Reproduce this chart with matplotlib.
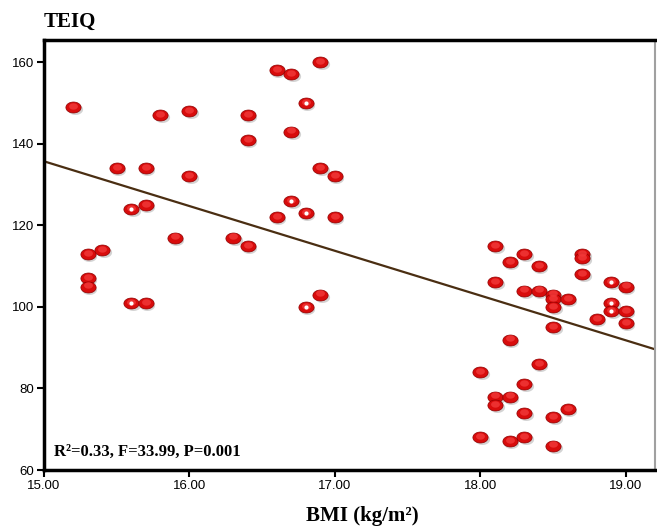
import matplotlib
matplotlib.use("Agg")
import matplotlib.pyplot as plt
import matplotlib.transforms as mtransforms
from matplotlib.path import Path
import numpy as np

# BMI (kg/m2) and TEIQ score per subject
bmi = [15.2, 15.5, 15.7, 16.0, 15.8, 16.0, 15.6, 15.7, 15.3, 15.4, 15.9, 15.3, 15.3,
       15.6, 15.7, 16.3, 16.4, 16.4, 16.4, 16.6, 16.7, 16.9, 16.8, 16.7, 16.9, 17.0,
       16.7, 16.8, 16.6, 17.0, 16.9, 16.8,
       18.1, 18.2, 18.3, 18.4, 18.7, 18.7, 18.7, 18.9, 19.0, 18.1, 18.3, 18.4, 18.5,
       18.5, 18.5, 18.6, 18.9, 18.9, 19.0, 18.8, 19.0, 18.5, 18.2, 18.4, 18.0, 18.3,
       18.1, 18.1, 18.2, 18.6, 18.3, 18.5, 18.0, 18.2, 18.3, 18.5]
teiq = [149, 134, 134, 148, 147, 132, 124, 125, 113, 114, 117, 107, 105,
        101, 101, 117, 115, 147, 141, 158, 157, 160, 150, 143, 134, 132,
        126, 123, 122, 122, 103, 100,
        115, 111, 113, 110, 113, 112, 108, 106, 105, 106, 104, 104, 103,
        102, 100, 102, 101, 99, 99, 97, 96, 95, 92, 86, 84, 81,
        78, 76, 78, 75, 74, 73, 68, 67, 68, 66]
# points drawn with a white centre (overlapping cases)
doubled = [(15.6, 124), (15.6, 101), (16.8, 150), (16.7, 126), (16.8, 123), (16.8, 100),
           (18.9, 106), (18.9, 101), (18.9, 99)]

fit_x = [15.0, 19.2]
fit_y = [135.7, 89.6]
stats_text = "R²=0.33, F=33.99, P=0.001"

fig = plt.figure(figsize=(6.57, 5.29), dpi=100)
ax = fig.add_axes([0.067, 0.1115, 0.93, 0.8125])

# flattened ellipse marker
t = np.linspace(0, 2 * np.pi, 60)
ell = Path(np.column_stack([np.cos(t), 0.72 * np.sin(t)]), closed=True)

ax.plot(fit_x, fit_y, color="#4a2e12", lw=1.6, zorder=2)

shadow = ax.transData + mtransforms.ScaledTranslation(1.5 / 100, -2 / 100, fig.dpi_scale_trans)
ax.scatter(bmi, teiq, s=120, marker=ell, color="#b0b0b0", alpha=0.55, lw=0,
           transform=shadow, zorder=3)
ax.scatter(bmi, teiq, s=120, marker=ell, color="#d80c0c", edgecolor="#900000",
           lw=0.5, zorder=4)
hl = ax.transData + mtransforms.ScaledTranslation(0, 1.2 / 100, fig.dpi_scale_trans)
ax.scatter(bmi, teiq, s=40, marker=ell, color="#f23a3a", alpha=0.8, lw=0,
           transform=hl, zorder=5)
dx, dy = zip(*doubled)
ax.scatter(dx, dy, s=9, marker="o", color="white", lw=0, zorder=6)

ax.set_xlim(15.0, 19.2)
ax.set_ylim(60, 165.4)
ax.set_xticks([15, 16, 17, 18, 19])
ax.set_xticklabels(["15.00", "16.00", "17.00", "18.00", "19.00"])
ax.set_yticks([60, 80, 100, 120, 140, 160])
ax.tick_params(direction="out", length=5, width=1.5, labelsize=9.5, pad=2)
for lab in ax.get_xticklabels() + ax.get_yticklabels():
    lab.set_family("Liberation Sans")

for side in ["left", "bottom", "top"]:
    ax.spines[side].set_linewidth(2.5)
    ax.spines[side].set_color("black")
ax.spines["right"].set_color("#a0a0a0")
ax.spines["right"].set_linewidth(1.5)

ax.text(15.07, 62.5, stats_text, family="Liberation Serif", weight="bold",
        fontsize=12, ha="left", va="bottom")
fig.text(0.066, 0.94, "TEIQ", family="Liberation Serif", weight="bold",
         fontsize=15, ha="left", va="bottom")
fig.text(0.552, 0.005, "BMI (kg/m²)", family="Liberation Serif",
         weight="bold", fontsize=15, ha="center", va="bottom")

fig.savefig("out.png", dpi=100)
